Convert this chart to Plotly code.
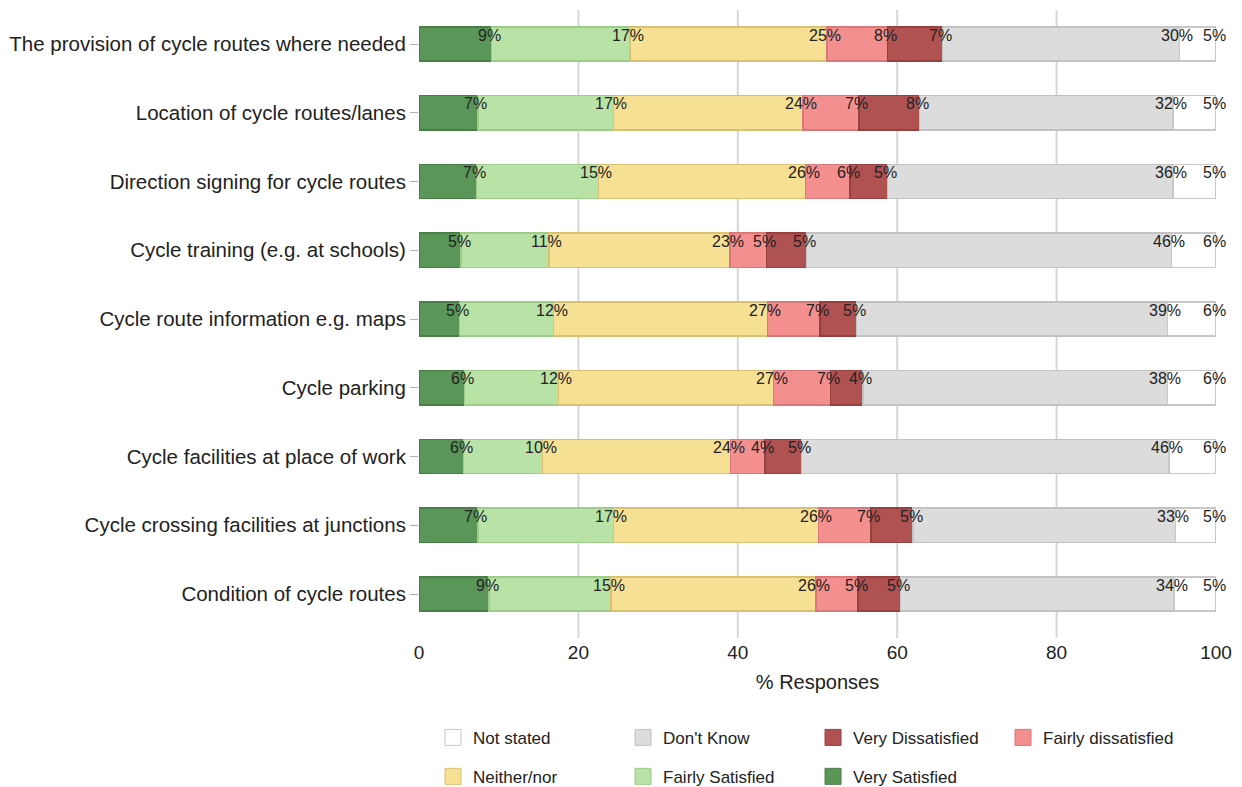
import plotly.graph_objects as go

categories = [
    "The provision of cycle routes where needed",
    "Location of cycle routes/lanes",
    "Direction signing for cycle routes",
    "Cycle training (e.g. at schools)",
    "Cycle route information e.g. maps",
    "Cycle parking",
    "Cycle facilities at place of work",
    "Cycle crossing facilities at junctions",
    "Condition of cycle routes",
]

very_satisfied = [9.1, 7.4, 7.2, 5.3, 5.1, 5.7, 5.6, 7.4, 8.8]
fairly_satisfied = [17.4, 17.0, 15.3, 11.0, 11.8, 11.8, 9.9, 17.0, 15.3]
neither_nor = [24.7, 23.8, 26.0, 22.7, 26.8, 27.0, 23.6, 25.7, 25.7]
fairly_dissatisfied = [7.6, 7.0, 5.6, 4.6, 6.6, 7.1, 4.3, 6.6, 5.3]
very_dissatisfied = [6.9, 7.6, 4.7, 5.0, 4.6, 4.1, 4.6, 5.3, 5.3]
dont_know = [29.7, 31.8, 35.8, 45.8, 39.0, 38.2, 46.1, 32.9, 34.3]
not_stated = [4.6, 5.4, 5.4, 5.6, 6.1, 6.1, 5.9, 5.1, 5.3]

series = [
    ("Very Satisfied", very_satisfied, "#5a9658", "#4a7e48", "legend2"),
    ("Fairly Satisfied", fairly_satisfied, "#b9e3a6", "#9ccc88", "legend2"),
    ("Neither/nor", neither_nor, "#f6e094", "#d8c272", "legend2"),
    ("Fairly dissatisfied", fairly_dissatisfied, "#f38f8f", "#d87878", "legend"),
    ("Very Dissatisfied", very_dissatisfied, "#b05252", "#964040", "legend"),
    ("Don't Know", dont_know, "#dcdcdc", "#c2c2c2", "legend"),
    ("Not stated", not_stated, "#ffffff", "#c8c8c8", "legend"),
]

x_ticks = [0, 20, 40, 60, 80, 100]

FONT = "Liberation Sans, Arial, sans-serif"

fig = go.Figure()
cum = [0.0] * len(categories)
annotations = []
for name, vals, fill, edge, leg in series:
    fig.add_trace(go.Bar(
        y=categories, x=vals, orientation="h", name=name,
        marker=dict(color=fill, line=dict(color=edge, width=1.5)),
        width=0.5, showlegend=False, hoverinfo="x+y+name",
    ))
    for i, v in enumerate(vals):
        cum[i] = round(cum[i] + v, 6)
        annotations.append(dict(
            x=min(cum[i], 100), y=categories[i], xref="x", yref="y",
            text=f"{int(v + 0.5)}%", showarrow=False,
            xanchor="center", yanchor="middle", xshift=-2, yshift=9,
            font=dict(family=FONT, size=16, color="#222222"),
        ))

# legend-only entries (square swatches)
for name, vals, fill, edge, leg in series:
    fig.add_trace(go.Scatter(
        x=[None], y=[None], mode="markers", name=name, legend=leg,
        marker=dict(symbol="square", size=16, color=fill, line=dict(color=edge, width=1)),
        hoverinfo="skip",
    ))

shapes = []
for t in x_ticks[1:-1]:
    shapes.append(dict(type="line", xref="x", yref="paper", x0=t, x1=t, y0=0, y1=1,
                       line=dict(color="#d6d6d6", width=2), layer="below"))

legend_common = dict(
    orientation="h", xanchor="left", yanchor="middle",
    traceorder="reversed", entrywidth=145, entrywidthmode="pixels",
    itemsizing="trace",
    font=dict(family=FONT, size=17, color="#222222"), bgcolor="rgba(0,0,0,0)",
)

fig.update_layout(
    barmode="stack",
    width=1234, height=779,
    margin=dict(l=411, r=26, t=2, b=149, autoexpand=False),
    plot_bgcolor="white", paper_bgcolor="white",
    font=dict(family=FONT, size=18, color="#222222"),
    annotations=annotations,
    shapes=shapes,
    xaxis=dict(
        range=[0, 100], tickvals=x_ticks, showgrid=False, zeroline=False,
        ticks="", tickfont=dict(size=19, color="#222222"), ticklabelstandoff=1,
        title=dict(text="% Responses", font=dict(size=20, color="#222222"), standoff=12),
        showline=False, automargin=False,
    ),
    yaxis=dict(
        categoryorder="array", categoryarray=categories,
        range=[8.64, -0.495], showgrid=False, zeroline=False,
        ticks="outside", ticklen=8, tickcolor="#b0b0b0", tickwidth=1,
        tickfont=dict(size=20.5, color="#222222"), showline=False, automargin=False,
    ),
    legend=dict(x=0.0176, y=-0.159, **legend_common),
    legend2=dict(x=0.0176, y=-0.221, **legend_common),
)

fig.write_html("out.html")
